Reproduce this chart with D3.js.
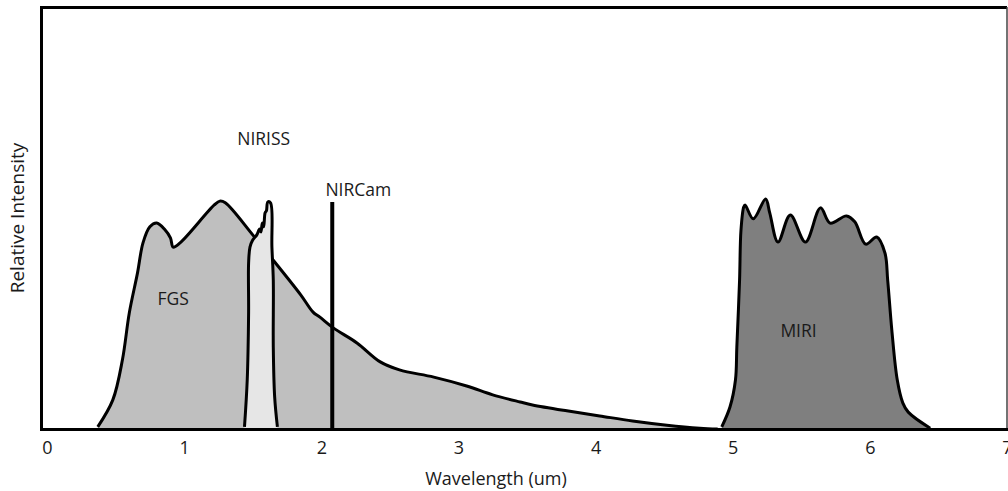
<!DOCTYPE html>
<html>
<head>
<meta charset="utf-8">
<script src="https://cdn.jsdelivr.net/npm/d3@7"></script>
<style>
  body { margin: 0; background: #fff; }
  svg { display: block; }
  text { font-family: "Open Sans", sans-serif; fill: #1a1a1a; }
</style>
</head>
<body>
<svg id="chart" width="1008" height="491"></svg>
<script>
// wavelength (um) and relative intensity (0-100)
var fgsWave = [0.37, 0.48, 0.55, 0.60, 0.66, 0.70, 0.75, 0.80, 0.86, 0.90, 0.92, 0.97, 1.22, 1.26, 1.30, 1.50, 1.65, 1.85, 1.94, 1.99, 2.09, 2.26, 2.43, 2.57, 2.82, 3.06, 3.25, 3.45, 3.54, 3.79, 4.03, 4.27, 4.52, 4.76, 4.89]
var fgsVal  = [0.5, 6.9, 16.4, 27.5, 37.0, 44.1, 47.9, 48.8, 47.2, 45.3, 43.1, 44.1, 53.1, 54.0, 53.6, 46.0, 40.0, 31.8, 27.7, 26.5, 23.9, 20.4, 15.9, 14.0, 12.3, 10.2, 8.1, 6.4, 5.7, 4.3, 3.1, 1.9, 0.9, 0.2, 0]

var nirissWave = [1.44, 1.46, 1.47, 1.47, 1.48, 1.50, 1.53, 1.55, 1.56, 1.57, 1.58, 1.59, 1.60, 1.61, 1.63, 1.64, 1.65, 1.65, 1.66, 1.68]
var nirissVal  = [0.5, 11.6, 27.5, 39.3, 43.1, 44.8, 46.0, 47.4, 46.7, 48.8, 47.9, 51.2, 51.7, 53.8, 53.6, 43.1, 35.3, 19.4, 7.6, 0.5]

var miriWave = [4.92, 4.98, 5.02, 5.03, 5.05, 5.06, 5.08, 5.09, 5.15, 5.24, 5.27, 5.33, 5.42, 5.53, 5.64, 5.71, 5.83, 5.89, 5.97, 6.05, 6.11, 6.13, 6.16, 6.20, 6.24, 6.28, 6.44]
var miriVal  = [0.5, 5.2, 11.6, 19.4, 35.3, 47.0, 52.6, 53.1, 49.8, 54.5, 51.2, 44.3, 50.7, 44.3, 52.4, 48.8, 50.5, 49.1, 43.8, 45.5, 41.7, 35.3, 23.5, 11.6, 6.2, 4.0, 0.2]

var nircamWave = 2.08
var nircamVal = 53.8

var xTicks = [0, 1, 2, 3, 4, 5, 6, 7]

var names = ["FGS", "NIRISS", "NIRCam", "MIRI"]
var labelWave = [0.92, 1.58, 2.27, 5.48]
var labelVal = [29.4, 67.3, 55.2, 21.8]

var svg = d3.select("#chart")

var x = d3.scaleLinear().domain([0, 7]).range([47, 1007])
var y = d3.scaleLinear().domain([0, 100]).range([429, 7])

var zip = function(ws, vs) {
  return ws.map(function(w, i) { return [w, vs[i]] })
}

var area = d3.area()
  .x(function(d) { return x(d[0]) })
  .y0(y(0))
  .y1(function(d) { return y(d[1]) })
  .curve(d3.curveCatmullRom.alpha(0.5))

var line = d3.line()
  .x(function(d) { return x(d[0]) })
  .y(function(d) { return y(d[1]) })
  .curve(d3.curveCatmullRom.alpha(0.5))

var drawBand = function(pts, fill) {
  svg.append("path").datum(pts)
    .attr("d", area)
    .attr("fill", fill)
  svg.append("path").datum(pts)
    .attr("d", line)
    .attr("fill", "none")
    .attr("stroke", "#000")
    .attr("stroke-width", 3)
    .attr("stroke-linejoin", "round")
}

drawBand(zip(fgsWave, fgsVal), "#bfbfbf")
drawBand(zip(nirissWave, nirissVal), "#e6e6e6")

svg.append("line")
  .attr("x1", x(nircamWave)).attr("x2", x(nircamWave))
  .attr("y1", y(0)).attr("y2", y(nircamVal))
  .attr("stroke", "#000")
  .attr("stroke-width", 4)

drawBand(zip(miriWave, miriVal), "#7f7f7f")

// frame
svg.append("path")
  .attr("d", "M41.5,430V7.5H1007")
  .attr("fill", "none")
  .attr("stroke", "#000")
  .attr("stroke-width", 3)
svg.append("line")
  .attr("x1", 1007).attr("x2", 1007)
  .attr("y1", 7).attr("y2", 429)
  .attr("stroke", "#444")
  .attr("stroke-width", 1.5)

var xAxis = d3.axisBottom(x).tickValues(xTicks).tickFormat(d3.format("d")).tickSize(0).tickPadding(12)
var gx = svg.append("g")
  .attr("transform", "translate(0," + y(0) + ")")
  .call(xAxis)
gx.select(".domain").remove()
gx.selectAll("text")
  .style("font-family", "'Open Sans', sans-serif")
  .style("font-size", "18px")
  .attr("fill", "#111")
svg.append("line")
  .attr("x1", 40).attr("x2", 1008)
  .attr("y1", 429.5).attr("y2", 429.5)
  .attr("stroke", "#000")
  .attr("stroke-width", 3)

svg.selectAll(".lbl")
  .data(names)
  .enter()
  .append("text")
  .attr("class", "lbl")
  .attr("x", function(d, i) { return x(labelWave[i]) })
  .attr("y", function(d, i) { return y(labelVal[i]) })
  .attr("text-anchor", "middle")
  .style("font-size", "17.5px")
  .text(function(d) { return d })

svg.append("text")
  .attr("x", 496).attr("y", 485)
  .attr("text-anchor", "middle")
  .style("font-size", "18px")
  .text("Wavelength (um)")

svg.append("text")
  .attr("transform", "translate(24,218) rotate(-90)")
  .attr("text-anchor", "middle")
  .style("font-size", "19px")
  .text("Relative Intensity")
</script>
</body>
</html>
